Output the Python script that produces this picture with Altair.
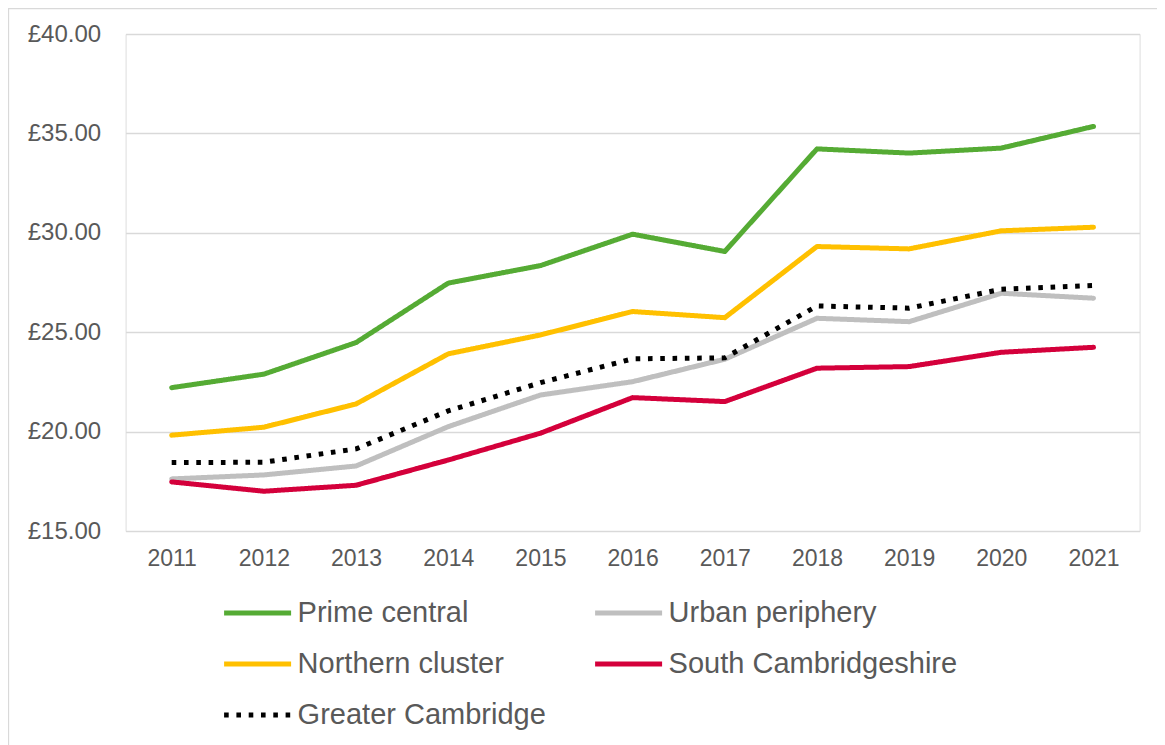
import altair as alt
import pandas as pd

years = [2011, 2012, 2013, 2014, 2015, 2016, 2017, 2018, 2019, 2020, 2021]
series_names = ["Prime central", "Urban periphery", "Northern cluster",
                "South Cambridgeshire", "Greater Cambridge"]
# legend is filled column by column: this order gives rows
# (Prime central, Urban periphery), (Northern cluster, South Cambridgeshire), (Greater Cambridge)
legend_order = ["Prime central", "Northern cluster", "Greater Cambridge",
                "Urban periphery", "South Cambridgeshire"]
prime_central = [22.21, 22.89, 24.48, 27.47, 28.35, 29.93, 29.06, 34.22, 34.01, 34.26, 35.35]
urban_periphery = [17.62, 17.82, 18.27, 20.25, 21.84, 22.51, 23.64, 25.70, 25.53, 26.96, 26.71]
northern_cluster = [19.82, 20.22, 21.39, 23.91, 24.86, 26.04, 25.73, 29.31, 29.19, 30.10, 30.28]
south_cambs = [17.47, 17.00, 17.30, 18.57, 19.92, 21.71, 21.51, 23.19, 23.27, 23.99, 24.24]
greater_cambridge = [18.44, 18.46, 19.13, 21.04, 22.46, 23.66, 23.71, 26.32, 26.21, 27.16, 27.35]
y_ticks = [15, 20, 25, 30, 35, 40]

color_map = {"Prime central": "#55ab34", "Urban periphery": "#bfbfbf",
             "Northern cluster": "#ffc000", "South Cambridgeshire": "#d4003b",
             "Greater Cambridge": "#000000"}
dash_map = {"Prime central": [1, 0], "Urban periphery": [1, 0],
            "Northern cluster": [1, 0], "South Cambridgeshire": [1, 0],
            "Greater Cambridge": [4.6, 7.7]}

values = [prime_central, urban_periphery, northern_cluster, south_cambs, greater_cambridge]
rows = []
for i, (name, vals) in enumerate(zip(series_names, values)):
    for y, v in zip(years, vals):
        rows.append({"series": name, "order": i, "year": str(y), "value": v})
df = pd.DataFrame(rows)

W, H = 1014, 497

legend = alt.Legend(
    title=None, orient="none", legendX=96, legendY=543, columns=2,
    symbolType="stroke", symbolSize=4489, symbolStrokeWidth=5,
    labelFontSize=29, labelFont="Liberation Sans", labelColor="#595959",
    labelOffset=4, columnPadding=38, rowPadding=0, padding=0,
    labelLimit=0,
)

x_enc = alt.X("year:O", scale=alt.Scale(type="point", padding=0.5),
              axis=alt.Axis(title=None, labelAngle=0, domain=False, ticks=False,
                            labelFontSize=23, labelFont="Liberation Sans",
                            labelColor="#595959", labelPadding=16, grid=False))
y_enc = alt.Y("value:Q", scale=alt.Scale(domain=[15, 40], nice=False, zero=False),
              axis=alt.Axis(title=None, values=y_ticks, domain=False, ticks=False,
                            labelExpr="'£' + format(datum.value, '.2f')",
                            labelFontSize=24, labelFont="Liberation Sans",
                            labelColor="#595959", labelPadding=25,
                            grid=True, gridColor="#d9d9d9", gridWidth=1.3))
color_enc = alt.Color("series:N", sort=legend_order,
                      scale=alt.Scale(domain=legend_order,
                                      range=[color_map[s] for s in legend_order]),
                      legend=legend)
dash_enc = alt.StrokeDash("series:N", sort=legend_order,
                          scale=alt.Scale(domain=legend_order,
                                          range=[dash_map[s] for s in legend_order]),
                          legend=legend)

base = alt.Chart(df).encode(x=x_enc, y=y_enc, color=color_enc, strokeDash=dash_enc,
                            detail="series:N")

solid = base.transform_filter(alt.datum.series != "Greater Cambridge").mark_line(
    strokeWidth=5, strokeCap="round", strokeJoin="round")
dotted = base.transform_filter(alt.datum.series == "Greater Cambridge").mark_line(
    strokeWidth=5, strokeCap="butt", strokeJoin="round")

frame = alt.Chart(pd.DataFrame({"f": [0]})).mark_rect(
    fillOpacity=0, stroke="#d9d9d9", strokeWidth=1.3
).encode(
    x=alt.value(-117.1), y=alt.value(-25.5),
    x2=alt.value(W + 200), y2=alt.value(H + 400),
)

chart = alt.layer(frame, solid, dotted).properties(
    width=W, height=H,
    autosize=alt.AutoSizeParams(type="none"),
    padding={"left": 117.6, "top": 26, "right": 17.4, "bottom": 214},
).configure_view(stroke=None).configure(background="white")

chart.save("out.html", embed_options={"renderer": "svg", "actions": False})
